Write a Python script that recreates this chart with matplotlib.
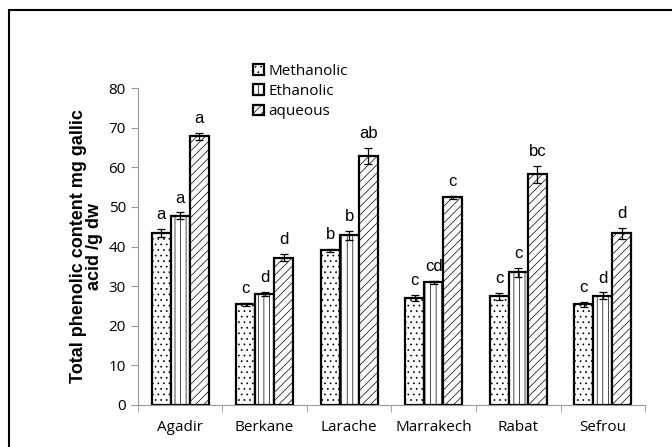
import matplotlib.pyplot as plt
import matplotlib.patches as mpatches
import numpy as np

plt.rcParams['hatch.linewidth'] = 0.5

cities = ["Agadir", "Berkane", "Larache", "Marrakech", "Rabat", "Sefrou"]
series = ["Methanolic", "Ethanolic", "aqueous"]

methanolic = [43.5, 25.4, 39.0, 27.0, 27.4, 25.4]
ethanolic = [47.8, 28.0, 42.8, 31.0, 33.5, 27.6]
aqueous = [67.8, 37.2, 62.8, 52.4, 58.2, 43.3]

err_m = [1.0, 0.4, 0.5, 0.7, 0.8, 0.7]
err_e = [0.8, 0.5, 1.2, 0.4, 1.2, 0.8]
err_a = [0.8, 0.8, 2.0, 0.4, 2.2, 1.5]

let_m = ["a", "c", "b", "c", "c", "c"]
let_e = ["a", "d", "b", "cd", "c", "d"]
let_a = ["a", "d", "ab", "c", "bc", "d"]

vals = [methanolic, ethanolic, aqueous]
errs = [err_m, err_e, err_a]
lets = [let_m, let_e, let_a]
hatches = ["...", "|||", "////"]

fig = plt.figure(figsize=(6.72, 4.47), dpi=100)
ax = fig.add_axes([0.205, 0.094, 0.755, 0.709])

x = np.arange(len(cities))
w = 0.225
for i in range(3):
    pos = x + (i - 1) * w
    ax.bar(pos, vals[i], w, color="white", edgecolor="black", linewidth=1.6,
           hatch=hatches[i], label=series[i], zorder=2)
    ax.errorbar(pos, vals[i], yerr=errs[i], fmt="none", ecolor="black",
                elinewidth=0.9, capsize=3, capthick=0.9, zorder=3)
    for p, v, e, l in zip(pos, vals[i], errs[i], lets[i]):
        ax.annotate(l, (p, v + e), xytext=(0, 5), textcoords="offset points",
                    ha="center", va="bottom", fontsize=12, family="Liberation Sans")

ax.set_ylim(0, 80)
ax.set_xlim(-0.5, len(cities) - 0.5)
ax.set_yticks(range(0, 81, 10))
ax.set_xticks(x)
ax.set_xticklabels(cities)
ax.set_xticks(np.arange(-0.5, len(cities)), minor=True)
ax.tick_params(axis="x", which="major", length=0, pad=11)
ax.tick_params(axis="x", which="minor", length=5, color="#999999")
ax.tick_params(axis="y", length=5, color="#999999")
for lab in ax.get_xticklabels() + ax.get_yticklabels():
    lab.set_family("Open Sans")
    lab.set_fontsize(11)
for s in ["top", "right"]:
    ax.spines[s].set_visible(False)
for s in ["left", "bottom"]:
    ax.spines[s].set_color("#999999")

ax.set_ylabel("Total phenolic content mg gallic\nacid /g dw", fontsize=13,
              fontweight="bold", family="Liberation Sans", linespacing=0.95, labelpad=4)

leg = ax.legend(loc="upper left", bbox_to_anchor=(0.2, 1.12), frameon=False,
                prop={"family": "Open Sans", "size": 11}, handlelength=0.7,
                handleheight=0.7, handletextpad=0.3, labelspacing=0.35)

fig.patches.append(mpatches.Rectangle((0.013, -0.02), 1.0, 0.997, transform=fig.transFigure,
                                      fill=False, edgecolor="black", linewidth=1.5))

fig.savefig("out.png", dpi=100)
